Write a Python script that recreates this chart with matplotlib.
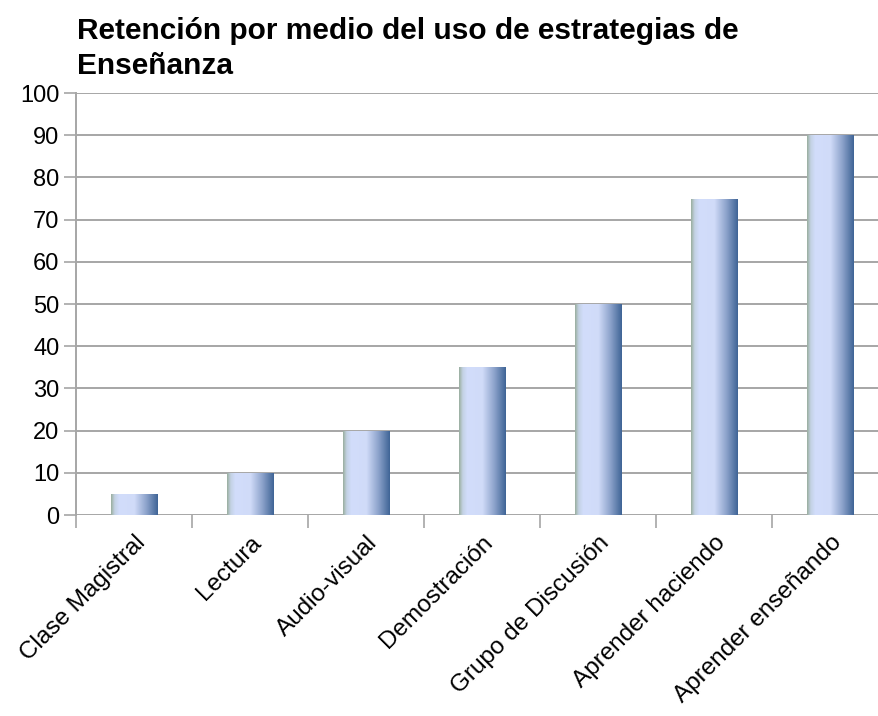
import numpy as np
import matplotlib
matplotlib.use("Agg")
import matplotlib.pyplot as plt
from matplotlib.colors import LinearSegmentedColormap
from matplotlib.patches import Rectangle

plt.rcParams['font.family'] = ['Liberation Sans', 'DejaVu Sans']

categories = ["Clase Magistral", "Lectura", "Audio-visual", "Demostración",
              "Grupo de Discusión", "Aprender haciendo", "Aprender enseñando"]
values = [5, 10, 20, 35, 50, 75, 90]
title = "Retención por medio del uso de estrategias de\nEnseñanza"

# cylinder-like shading across each bar
bar_cmap = LinearSegmentedColormap.from_list("bar", [
    (0.00, "#9aae9e"), (0.08, "#c4d2e4"), (0.18, "#d2ddfb"),
    (0.50, "#d0dbf8"), (0.75, "#8ea4cc"), (1.00, "#3f6496")])

fig = plt.figure(figsize=(8.79, 7.16), dpi=100)
ax = fig.add_axes([0.0865, 0.2807, 0.9238, 0.5894])

n = len(categories)
x = np.arange(n)
width = 0.4
grad = np.linspace(0, 1, 256).reshape(1, -1)
for xi, v in zip(x, values):
    rect = Rectangle((xi - width / 2, 0), width, v, facecolor="none",
                     edgecolor="none")
    ax.add_patch(rect)
    im = ax.imshow(grad, cmap=bar_cmap, aspect="auto", zorder=3,
                   extent=(xi - width / 2, xi + width / 2, 0, v))
    im.set_clip_path(rect)

ax.set_xlim(-0.5, n - 0.5)
ax.set_ylim(0, 100)
ax.set_yticks(np.arange(0, 101, 10))
ax.grid(axis="y", color="#a6a6a6", linewidth=1.4, zorder=0)
ax.set_axisbelow(True)

ax.set_xticks(x)
ax.set_xticklabels(categories, rotation=45, ha="right", va="top",
                   rotation_mode="anchor", fontsize=17.5)
ax.set_xticks(np.arange(-0.5, n - 0.5, 1), minor=True)
ax.tick_params(axis="x", which="major", length=0, pad=12)
ax.tick_params(axis="x", which="minor", length=9, width=1.2, color="#a6a6a6")
ax.tick_params(axis="y", length=9, width=1.2, color="#a6a6a6",
               labelsize=17, pad=3)

for s in ["top", "right", "bottom"]:
    ax.spines[s].set_visible(False)
ax.spines["left"].set_color("#a6a6a6")
ax.spines["left"].set_linewidth(1.4)

fig.text(0.088, 0.976, title, ha="left", va="top", fontsize=21.5,
         fontweight="bold", linespacing=1.32)

fig.savefig("out.png", dpi=100)
